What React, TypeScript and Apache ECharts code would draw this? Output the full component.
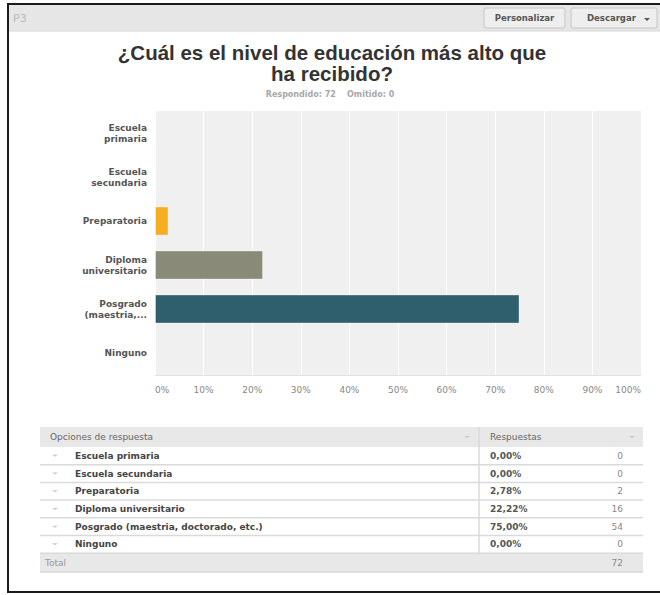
import React, { useEffect, useRef } from "react";
import * as echarts from "echarts";

const categories = [
  "Escuela\nprimaria",
  "Escuela\nsecundaria",
  "Preparatoria",
  "Diploma\nuniversitario",
  "Posgrado\n(maestria,...",
  "Ninguno",
];
const values = [0, 0, 2.78, 22.22, 75, 0];
const barColors = ["#2F5F6D", "#8A8A78", "#F5AE22", "#8A8A78", "#2F5F6D", "#F5AE22"];
const xTicks = ["0%", "10%", "20%", "30%", "40%", "50%", "60%", "70%", "80%", "90%", "100%"];
const tableLabels = [
  "Escuela primaria",
  "Escuela secundaria",
  "Preparatoria",
  "Diploma universitario",
  "Posgrado (maestria, doctorado, etc.)",
  "Ninguno",
];
const tablePercents = ["0,00%", "0,00%", "2,78%", "22,22%", "75,00%", "0,00%"];
const tableCounts = ["0", "0", "2", "16", "54", "0"];
const total = "72";

const TFONT = "'Liberation Sans', Arial, Helvetica, sans-serif";
const FONT = "'DejaVu Sans', Verdana, sans-serif";

export default function App() {
  const ref = useRef<HTMLDivElement>(null);
  useEffect(() => {
    document.body.style.margin = "0";
    if (!ref.current) return;
    const chart = echarts.init(ref.current, null, { renderer: "svg" });

    const graphics: any[] = [];
    graphics.push({
      type: "rect",
      shape: { x: 9, y: 5, width: 660, height: 26 },
      style: { fill: "#E6E6E6" },
    });
    graphics.push({
      type: "line",
      shape: { x1: 9, y1: 31, x2: 660, y2: 31 },
      style: { stroke: "#D8D8D8", lineWidth: 1 },
    });
    // frame
    graphics.push({
      type: "rect",
      shape: { x: 8, y: 4, width: 680, height: 588 },
      style: { fill: "none", stroke: "#1a1a1a", lineWidth: 2 },
      z: 10,
    });
    graphics.push({
      type: "text",
      x: 13,
      y: 18,
      style: { text: "P3", fill: "#BBBBBB", font: `11px ${FONT}`, verticalAlign: "middle" },
    });
    // buttons
    graphics.push({
      type: "rect",
      shape: { x: 484, y: 8, width: 81, height: 20, r: 2 },
      style: { fill: "#EEEEEE", stroke: "#C6C6C6", lineWidth: 1 },
    });
    graphics.push({
      type: "text",
      x: 524.5,
      y: 18,
      style: {
        text: "Personalizar",
        fill: "#555",
        font: `bold 8.5px ${FONT}`,
        align: "center",
        verticalAlign: "middle",
      },
    });
    graphics.push({
      type: "rect",
      shape: { x: 571, y: 8, width: 86, height: 20, r: 2 },
      style: { fill: "#EEEEEE", stroke: "#C6C6C6", lineWidth: 1 },
    });
    graphics.push({
      type: "text",
      x: 587,
      y: 18,
      style: {
        text: "Descargar",
        fill: "#555",
        font: `bold 8.5px ${FONT}`,
        align: "left",
        verticalAlign: "middle",
      },
    });
    graphics.push({
      type: "polygon",
      shape: { points: [[644, 18], [650, 18], [647, 21]] },
      style: { fill: "#555" },
    });
    // title
    graphics.push({
      type: "text",
      x: 332,
      y: 52,
      style: {
        text: "¿Cuál es el nivel de educación más alto que",
        fill: "#333",
        font: `bold 20.5px ${TFONT}`,
        align: "center",
        verticalAlign: "middle",
      },
    });
    graphics.push({
      type: "text",
      x: 332,
      y: 73,
      style: {
        text: "ha recibido?",
        fill: "#333",
        font: `bold 20.5px ${TFONT}`,
        align: "center",
        verticalAlign: "middle",
      },
    });
    // subtitle
    graphics.push({
      type: "text",
      x: 330,
      y: 94,
      style: {
        text: "Respondido: 72    Omitido: 0",
        fill: "#A8A8A8",
        font: `bold 8px ${FONT}`,
        align: "center",
        verticalAlign: "middle",
      },
    });

    // table
    const tX = 40;
    const tW = 603;
    const divX = 479;
    const headTop = 427;
    const headH = 20;
    const rowH = 17.7;
    graphics.push({
      type: "rect",
      shape: { x: tX, y: headTop, width: tW, height: headH },
      style: { fill: "#E8E8E8" },
    });
    graphics.push({
      type: "text",
      x: 50,
      y: headTop + headH / 2,
      style: {
        text: "Opciones de respuesta",
        fill: "#666",
        font: `9px ${FONT}`,
        verticalAlign: "middle",
      },
    });
    graphics.push({
      type: "text",
      x: 490,
      y: headTop + headH / 2,
      style: {
        text: "Respuestas",
        fill: "#666",
        font: `9px ${FONT}`,
        verticalAlign: "middle",
      },
    });
    [467, 632].forEach((ax) => {
      graphics.push({
        type: "polygon",
        shape: { points: [[ax - 3, headTop + 9], [ax + 3, headTop + 9], [ax, headTop + 11]] },
        style: { fill: "#C8C8C8" },
      });
    });
    const bodyTop = headTop + headH;
    tableLabels.forEach((lab, i) => {
      const top = bodyTop + i * rowH;
      const cy = top + rowH / 2;
      graphics.push({
        type: "polygon",
        shape: { points: [[52, cy - 1], [58, cy - 1], [55, cy + 1]] },
        style: { fill: "#C8C8C8" },
      });
      graphics.push({
        type: "text",
        x: 75,
        y: cy,
        style: { text: lab, fill: "#444", font: `bold 9px ${FONT}`, verticalAlign: "middle" },
      });
      graphics.push({
        type: "text",
        x: 490,
        y: cy,
        style: {
          text: tablePercents[i],
          fill: "#555",
          font: `bold 9px ${FONT}`,
          verticalAlign: "middle",
        },
      });
      graphics.push({
        type: "text",
        x: 623,
        y: cy,
        style: {
          text: tableCounts[i],
          fill: "#888",
          font: `9px ${FONT}`,
          align: "right",
          verticalAlign: "middle",
        },
      });
      graphics.push({
        type: "line",
        shape: { x1: tX, y1: top + rowH, x2: tX + tW, y2: top + rowH },
        style: { stroke: "#DADADA", lineWidth: 1.5 },
      });
    });
    const totTop = bodyTop + tableLabels.length * rowH;
    graphics.push({
      type: "rect",
      shape: { x: tX, y: totTop + 0.75, width: tW, height: rowH },
      style: { fill: "#E8E8E8" },
    });
    graphics.push({
      type: "line",
      shape: { x1: tX, y1: totTop + rowH + 1, x2: tX + tW, y2: totTop + rowH + 1 },
      style: { stroke: "#D6D6D6", lineWidth: 1.5 },
    });
    graphics.push({
      type: "text",
      x: 45,
      y: totTop + rowH / 2 + 0.75,
      style: { text: "Total", fill: "#999", font: `9px ${FONT}`, verticalAlign: "middle" },
    });
    graphics.push({
      type: "text",
      x: 623,
      y: totTop + rowH / 2 + 0.75,
      style: {
        text: total,
        fill: "#888",
        font: `9px ${FONT}`,
        align: "right",
        verticalAlign: "middle",
      },
    });
    graphics.push({
      type: "line",
      shape: { x1: divX, y1: headTop, x2: divX, y2: totTop },
      style: { stroke: "#DADADA", lineWidth: 1.5 },
    });

    chart.setOption({
      animation: false,
      backgroundColor: "#FFFFFF",
      grid: {
        left: 155,
        right: 19,
        top: 111,
        bottom: 220,
        show: true,
        backgroundColor: "#F0F0F0",
        borderWidth: 0,
      },
      xAxis: {
        type: "value",
        min: 0,
        max: 100,
        interval: 10,
        axisLine: { show: true, lineStyle: { color: "#E2E2E2", width: 1 } },
        axisTick: { show: false },
        splitLine: { show: true, lineStyle: { color: "#FFFFFF", width: 1 } },
        axisLabel: {
          formatter: (v: number) => xTicks[Math.round(v / 10)],
          color: "#888",
          fontFamily: FONT,
          fontSize: 9,
          margin: 10,
          alignMinLabel: "left",
          alignMaxLabel: "right",
        },
      },
      yAxis: {
        type: "category",
        inverse: true,
        data: categories,
        axisLine: { show: false },
        axisTick: { show: false },
        splitLine: { show: false },
        axisLabel: {
          color: "#555",
          fontFamily: FONT,
          fontSize: 9,
          fontWeight: "bold",
          lineHeight: 11,
          margin: 8,
          align: "right",
        },
      },
      series: [
        {
          type: "bar",
          barWidth: "66%",
          data: values.map((v, i) => ({
            value: v,
            itemStyle: { color: barColors[i], borderColor: "rgba(255,255,255,0.35)", borderWidth: 1 },
          })),
        },
      ],
      graphic: graphics,
    });
    return () => chart.dispose();
  }, []);
  return <div ref={ref} style={{ width: 660, height: 595 }} />;
}
